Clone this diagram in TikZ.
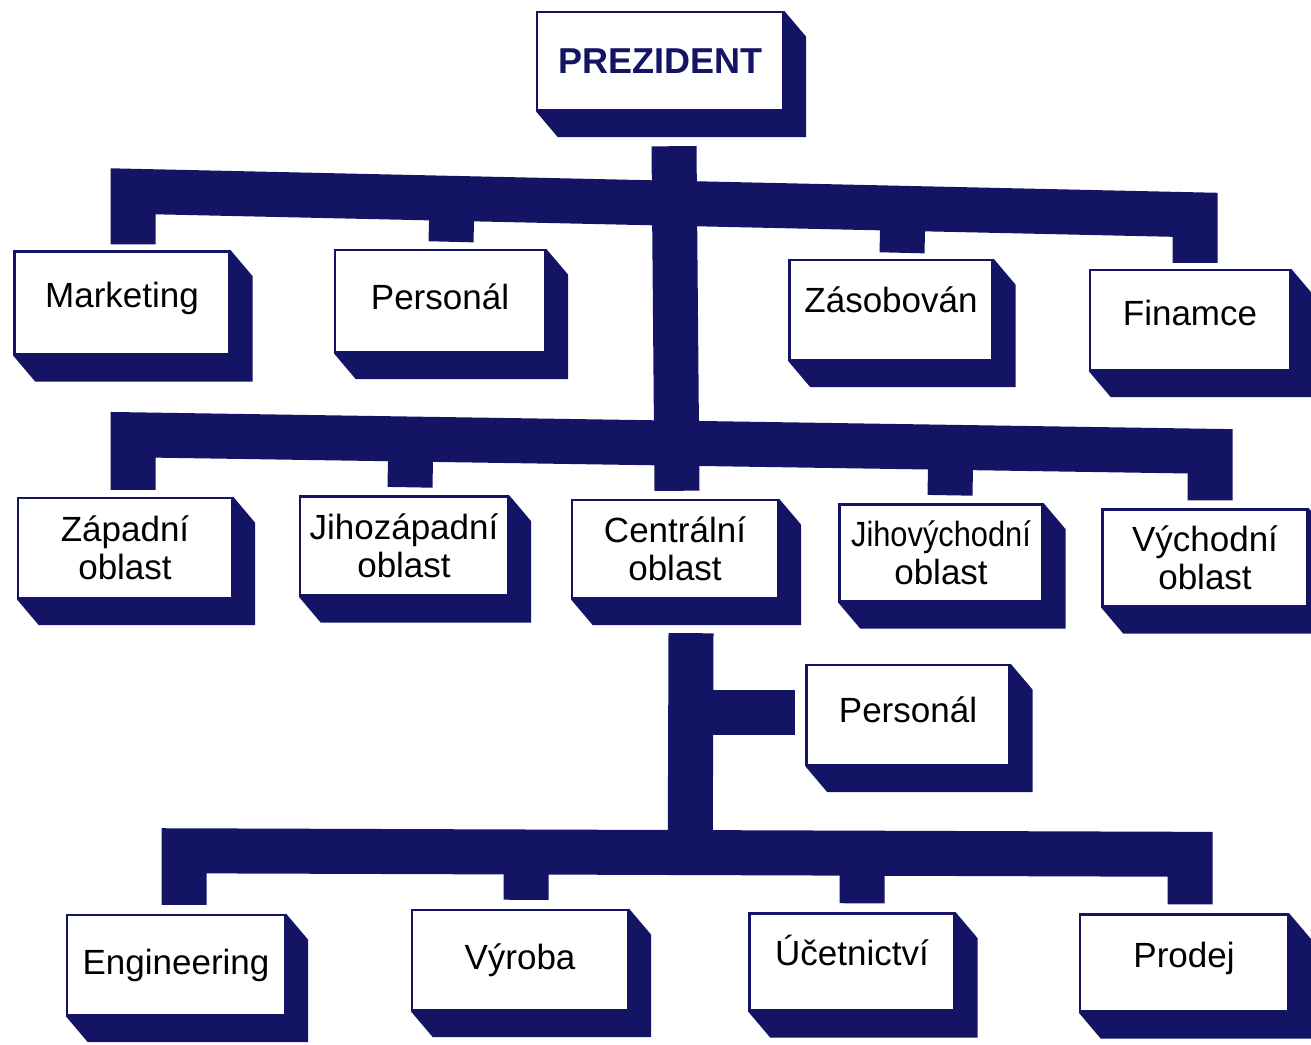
\documentclass[tikz,border=0pt]{standalone}
\usepackage{fontspec}
\setmainfont{Liberation Sans}
\usetikzlibrary{calc,backgrounds}
\definecolor{navy}{RGB}{20,20,100}
\newcommand\shbox[1]{\fill[navy] (#1.north east) -- ($(#1.north east)+(22,26)$) -- ($(#1.south east)+(22,26)$) -- ($(#1.south west)+(22,26)$) -- (#1.south west) -- cycle;}
\newcommand\up[2]{\raisebox{#1}[\height][\depth]{#2}}
\begin{document}
\begin{tikzpicture}[x=0.5pt,y=-0.5pt,
  box/.style={draw=navy, line width=1.2pt, fill=white, inner sep=2pt, align=center,
    font=\fontsize{17.5}{19}\selectfont, text=black},
  sz/.style 2 args={minimum width=#1*0.5pt, minimum height=#2*0.5pt},
  bar/.style={draw=navy, line width=22.5pt, line join=miter, line cap=butt}]
\useasboundingbox (0,0) rectangle (1311,1044);

\node[box,sz={246}{98},font=\fontsize{18}{20}\selectfont\bfseries,text=navy] (pres) at (660,61) {PREZIDENT};
\node[box,sz={215}{103}] (mkt) at (122,303) {\up{2.5pt}{Marketing}};
\node[box,sz={210}{102}] (per1) at (440,301) {\up{2pt}{Personál}};
\node[box,sz={203}{100}] (zas) at (891,310) {\up{5pt}{Zásobován}};
\node[box,sz={200}{100}] (fin) at (1190,320) {\up{3.5pt}{Finamce}};
\node[box,sz={214}{100}] (zap) at (125,548) {Západní\\oblast};
\node[box,sz={208}{99}] (jzap) at (404,546) {Jihozápadní\\oblast};
\node[box,sz={206}{98}] (cen) at (675,549) {Centrální\\oblast};
\node[box,sz={203}{97}] (jvych) at (941,553) {\scalebox{0.88}[1]{Jihovýchodní}\\oblast};
\node[box,sz={205}{97}] (vych) at (1205,558) {Východní\\oblast};
\node[box,sz={203}{100}] (per2) at (908,715) {\up{2.5pt}{Personál}};
\node[box,sz={218}{100}] (eng) at (176,965) {Engineering};
\node[box,sz={216}{100}] (vyr) at (520,960) {Výroba};
\node[box,sz={205}{97}] (uce) at (852,962) {\up{6pt}{Účetnictví}};
\node[box,sz={208}{97}] (pro) at (1184,963) {\up{2.5pt}{Prodej}};

\begin{scope}[on background layer]
\fill[white] (0,0) rectangle (1311,1044);
\foreach \n in {pres,mkt,per1,zas,fin,zap,jzap,cen,jvych,vych,per2,eng,vyr,uce,pro}{\shbox{\n}}
\end{scope}

% level 1
\coordinate (b1L) at ($(mkt.north)+(11,-59)$);
\coordinate (b1R) at ($(fin.north)+(5,-54)$);
\draw[bar] ($(mkt.north)+(11,-6)$) -- (b1L) -- (b1R) -- ($(fin.north)+(5,-6)$);
\coordinate (p1) at ($(per1.north)+(11,0)$);
\coordinate (p2) at ($(zas.north)+(11,0)$);
\draw[bar] ($(p1)+(0,-7)$) -- ($(b1L)!(p1)!(b1R)$);
\draw[bar] ($(p2)+(0,-6)$) -- ($(b1L)!(p2)!(b1R)$);
% trunk
\coordinate (t1) at ($(pres.south)+(14,35)$);
\draw[bar] (t1) -- ($(cen.north)+(2,-8)$);
% level 2
\coordinate (b2L) at ($(zap.north)+(8,-62)$);
\coordinate (b2R) at ($(vych.north)+(5,-57)$);
\draw[bar] ($(zap.north)+(8,-7)$) -- (b2L) -- (b2R) -- ($(vych.north)+(5,-8)$);
\coordinate (p3) at ($(jzap.north)+(6,0)$);
\coordinate (p4) at ($(jvych.north)+(9,0)$);
\draw[bar] ($(p3)+(0,-8)$) -- ($(b2L)!(p3)!(b2R)$);
\draw[bar] ($(p4)+(0,-8)$) -- ($(b2L)!(p4)!(b2R)$);
% level 3
\coordinate (t3) at ($(cen.south)+(16,34)$);
\coordinate (b3L) at ($(eng.north)+(8,-63)$);
\coordinate (b3R) at ($(pro.north)+(6,-59)$);
\draw[bar] ($(eng.north)+(8,-9)$) -- (b3L) -- (b3R) -- ($(pro.north)+(6,-9)$);
\draw[bar] (t3) -- ($(b3L)!(t3)!(b3R)$);
\coordinate (p5) at ($(vyr.north)+(6,0)$);
\coordinate (p6) at ($(uce.north)+(10,0)$);
\draw[bar] ($(p5)+(0,-9)$) -- ($(b3L)!(p5)!(b3R)$);
\draw[bar] ($(p6)+(0,-9)$) -- ($(b3L)!(p6)!(b3R)$);
\draw[bar] ($(per2.west)+(-10,-3)$) -- ($(t3 |- per2.west)+(0,-3)$);
\end{tikzpicture}
\end{document}
